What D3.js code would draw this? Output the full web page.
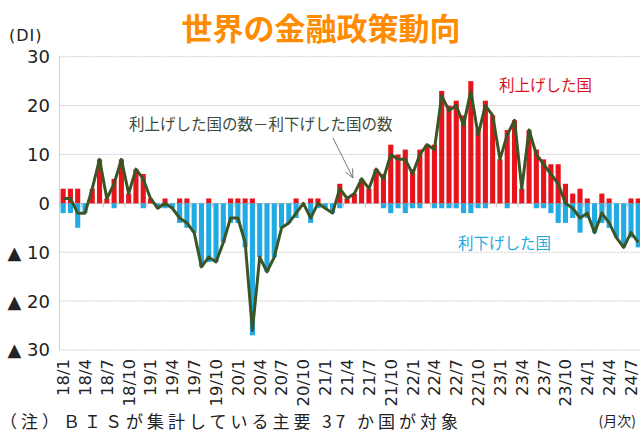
<!DOCTYPE html>
<html><head><meta charset="utf-8">
<script src="https://cdn.jsdelivr.net/npm/d3@7"></script>
<style>
html,body{margin:0;padding:0;background:#fff;overflow:hidden;}
svg{display:block;}
</style>
</head><body>
<script>
const months = ["18/1","18/2","18/3","18/4","18/5","18/6","18/7","18/8","18/9","18/10","18/11","18/12",
"19/1","19/2","19/3","19/4","19/5","19/6","19/7","19/8","19/9","19/10","19/11","19/12",
"20/1","20/2","20/3","20/4","20/5","20/6","20/7","20/8","20/9","20/10","20/11","20/12",
"21/1","21/2","21/3","21/4","21/5","21/6","21/7","21/8","21/9","21/10","21/11","21/12",
"22/1","22/2","22/3","22/4","22/5","22/6","22/7","22/8","22/9","22/10","22/11","22/12",
"23/1","23/2","23/3","23/4","23/5","23/6","23/7","23/8","23/9","23/10","23/11","23/12",
"24/1","24/2","24/3","24/4","24/5","24/6","24/7","24/8"];
// countries that raised rates
const raised = [3,3,3,0,3,9,1,5,9,2,7,6,
1,0,1,0,1,1,0,0,1,0,0,1,
1,1,1,0,0,0,0,0,1,0,1,1,
0,0,4,1,2,5,3,7,6,12,10,11,
7,11,12,12,23,20,21,18,25,15,21,18,
9,15,17,3,15,11,9,8,8,4,2,3,
1,0,2,1,0,0,1,1];
// countries that lowered rates
const lowered = [2,2,5,2,0,0,0,1,0,0,0,1,
0,1,1,1,4,5,6,13,12,12,8,4,
4,9,27,11,14,11,5,4,3,0,4,1,
1,2,1,0,0,0,0,0,1,2,1,2,
1,1,0,1,1,1,1,2,2,1,1,0,
0,1,0,0,0,1,1,2,4,4,3,6,
3,6,4,5,7,9,7,9];
// raised minus lowered (line)
const net = [1,1,-2,-2,3,9,1,4,9,2,7,5,
1,-1,0,-1,-3,-4,-6,-13,-11,-12,-8,-3,
-3,-8,-26,-11,-14,-11,-5,-4,-2,0,-3,0,
-1,-2,3,1,2,5,3,7,5,10,9,9,
6,10,12,11,22,19,20,16,23,14,20,18,
9,14,17,3,15,10,8,6,4,0,-1,-3,
-2,-6,-2,-4,-7,-9,-6,-8];
const yTicks = [30,20,10,0,-10,-20,-30];
const yTickLabels = ["30","20","10","0","▲ 10","▲ 20","▲ 30"];

const W = 640, H = 432;
const svg = d3.select("body").append("svg").attr("width", W).attr("height", H);

const x = d3.scaleBand().domain(months).range([59.5, 59.5 + 80 * 7.28]).paddingInner(0.3).paddingOuter(0.15);
const y = d3.scaleLinear().domain([-30, 30]).range([350, 56.7]);
const cx = m => x(m) + x.bandwidth() / 2;

const numFont = "'DejaVu Sans', sans-serif";
const jpFont = "'Noto Sans CJK JP', sans-serif";

// gridlines
svg.append("g").selectAll("line").data(yTicks.filter(v => v !== 0)).join("line")
  .attr("x1", 59.5).attr("x2", W).attr("y1", d => y(d)).attr("y2", d => y(d))
  .attr("stroke", "#cfcfcf").attr("stroke-width", 1).attr("stroke-dasharray", "2,1");
// y axis line
svg.append("line").attr("x1", 59.5).attr("x2", 59.5).attr("y1", y(30)).attr("y2", y(-30))
  .attr("stroke", "#cfcfcf").attr("stroke-width", 1);
// zero line
svg.append("line").attr("x1", 59.5).attr("x2", W).attr("y1", y(0)).attr("y2", y(0))
  .attr("stroke", "#bfbfbf").attr("stroke-width", 1);
// zero-line ticks every 3 months
svg.append("g").selectAll("line").data(months.filter((m, i) => i % 3 === 0)).join("line")
  .attr("x1", d => x(d) - x.step() * x.paddingInner() / 2).attr("x2", d => x(d) - x.step() * x.paddingInner() / 2)
  .attr("y1", y(0)).attr("y2", y(0) + 4).attr("stroke", "#bfbfbf");

// bars
svg.append("g").selectAll("rect").data(months).join("rect")
  .attr("x", d => x(d)).attr("width", x.bandwidth())
  .attr("y", (d, i) => y(raised[i])).attr("height", (d, i) => y(0) - y(raised[i]))
  .attr("fill", "#E8141C");
svg.append("g").selectAll("rect").data(months).join("rect")
  .attr("x", d => x(d)).attr("width", x.bandwidth())
  .attr("y", y(0)).attr("height", (d, i) => y(-lowered[i]) - y(0))
  .attr("fill", "#22AAE2");

// net line
const line = d3.line().x((d, i) => cx(months[i])).y(d => y(d));
svg.append("path").datum(net).attr("d", line)
  .attr("fill", "none").attr("stroke", "#3B5526").attr("stroke-width", 3)
  .attr("stroke-linejoin", "round");

// y tick labels
svg.append("g").selectAll("text").data(yTicks).join("text")
  .attr("x", 50).attr("y", d => y(d)).attr("dy", "0.36em")
  .attr("text-anchor", "end").attr("font-family", numFont).attr("font-size", 18)
  .attr("fill", "#222").text((d, i) => yTickLabels[i]);

// x tick labels
svg.append("g").selectAll("text").data(months.filter((m, i) => i % 3 === 0)).join("text")
  .attr("transform", d => `translate(${cx(d)},359) rotate(-90)`)
  .attr("dy", "0.36em").attr("text-anchor", "end")
  .attr("font-family", numFont).attr("font-size", 16.5).attr("fill", "#222").text(d => d);

// title
svg.append("text").attr("x", 321).attr("y", 40).attr("text-anchor", "middle")
  .attr("font-family", jpFont).attr("font-weight", "bold").attr("font-size", 31)
  .attr("fill", "#FF8C00").text("世界の金融政策動向");

// unit
svg.append("text").attr("x", 9).attr("y", 41).attr("font-family", numFont).attr("font-size", 16)
  .attr("letter-spacing", 1).attr("fill", "#222").text("(DI)");

// annotations
svg.append("text").attr("x", 129).attr("y", 130).attr("font-family", jpFont).attr("font-size", 15.5)
  .attr("fill", "#3f4a3a").text("利上げした国の数－利下げした国の数");
svg.append("text").attr("x", 499).attr("y", 91).attr("font-family", jpFont).attr("font-size", 15.5)
  .attr("fill", "#D9141B").text("利上げした国");
svg.append("text").attr("x", 458).attr("y", 249).attr("font-family", jpFont).attr("font-size", 15.5)
  .attr("fill", "#22AAE2").text("利下げした国");

// arrow
svg.append("line").attr("x1", 333).attr("y1", 138).attr("x2", 353).attr("y2", 178)
  .attr("stroke", "#777").attr("stroke-width", 1);
svg.append("path").attr("d", "M345.5,172 L353,178 L352.5,168.5")
  .attr("fill", "none").attr("stroke", "#777").attr("stroke-width", 1);

// footer
svg.append("text").attr("x", 636).attr("y", 426).attr("text-anchor", "end")
  .attr("font-family", jpFont).attr("font-size", 14)
  .attr("fill", "#222").text("(月次)");
svg.append("text").attr("x", 0).attr("y", 428).attr("font-family", jpFont).attr("font-size", 17)
  .attr("letter-spacing", 4).attr("fill", "#222").text("（注）ＢＩＳが集計している主要 37 か国が対象");
</script>
</body></html>
